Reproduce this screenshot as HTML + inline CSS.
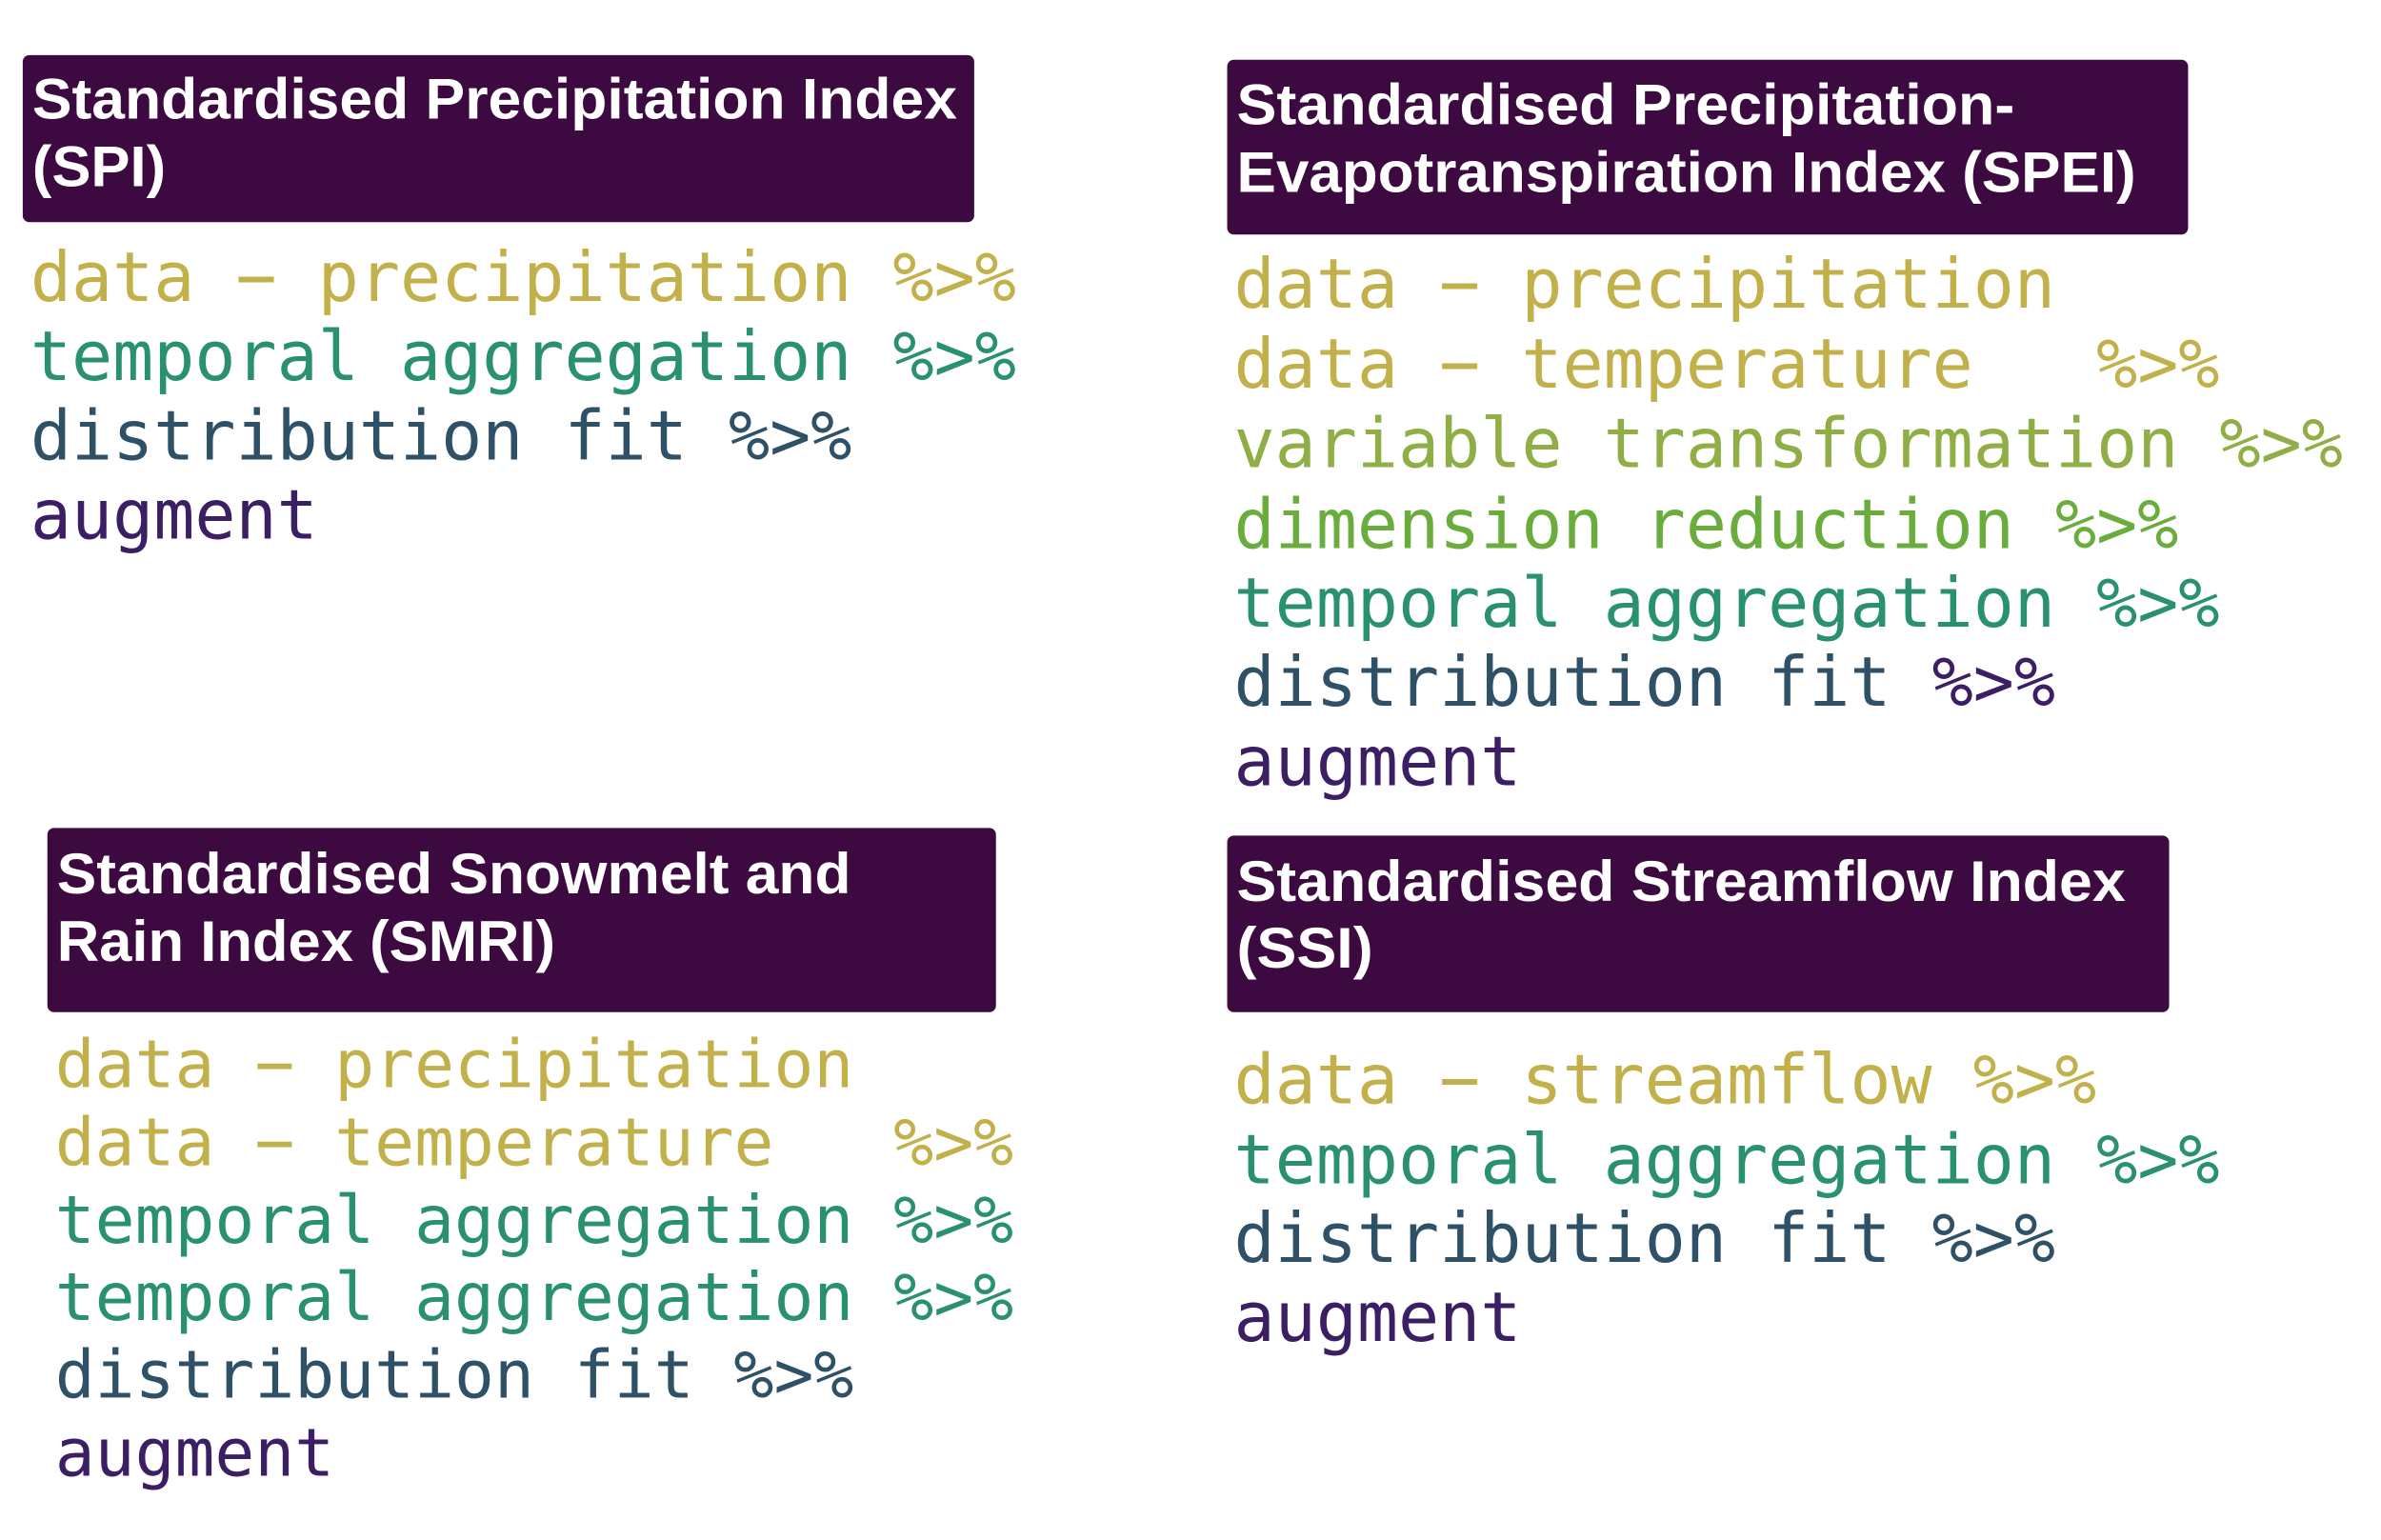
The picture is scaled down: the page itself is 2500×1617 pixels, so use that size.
<!DOCTYPE html>
<html><head><meta charset="utf-8"><style>
html,body{margin:0;padding:0;background:#fff;}
svg{display:block;}
text{white-space:pre;}
.t{font-family:"Liberation Sans",sans-serif;font-weight:bold;fill:#fff;font-size:60px;}
.c{font-family:"DejaVu Sans Mono","Liberation Mono",monospace;font-size:72px;}
.s{font-size:70px;}
</style></head><body>
<svg width="2500" height="1617" viewBox="0 0 2500 1617" xmlns="http://www.w3.org/2000/svg">
<g transform="scale(0.995 0.997)">
<g>
<rect x="24" y="58" width="1004" height="176" rx="7" fill="#3c0a40"/>
<text class="t"><tspan x="34" y="125" textLength="976" lengthAdjust="spacingAndGlyphs">Standardised Precipitation Index</tspan><tspan x="34" y="196" textLength="141" lengthAdjust="spacingAndGlyphs">(SPI)</tspan></text>
<text class="c" x="32" y="317" fill="#c2b04a">data − precipitation %&gt;%</text>
<text class="c" x="32" y="400" fill="#2a9170">temporal aggregation %&gt;%</text>
<text class="c" x="32" y="484" fill="#2f5168">distribution fit %&gt;%</text>
<text class="c" x="32" y="567" fill="#3b1e63">augment</text>
</g>
<g>
<rect x="1295" y="63" width="1014" height="184" rx="7" fill="#3c0a40"/>
<text class="t"><tspan x="1305" y="131" textLength="821" lengthAdjust="spacingAndGlyphs">Standardised Precipitation-</tspan><tspan x="1305" y="202" textLength="949" lengthAdjust="spacingAndGlyphs">Evapotranspiration Index (SPEI)</tspan></text>
<text class="c" x="1302" y="324" fill="#c2b04a">data − precipitation</text>
<text class="c" x="1302" y="408" fill="#c2b04a">data − temperature   %&gt;%</text>
<text class="c" x="1302" y="492" fill="#8fae45">variable transformation %&gt;%</text>
<text class="c" x="1302" y="577" fill="#6aad3d">dimension reduction %&gt;%</text>
<text class="c" x="1302" y="660" fill="#2a9170">temporal aggregation %&gt;%</text>
<text class="c" x="1302" y="743" fill="#2f5168">distribution fit <tspan fill="#3b1e63">%&gt;%</tspan></text>
<text class="c" x="1302" y="827" fill="#3b1e63">augment</text>
</g>
<g>
<rect x="50" y="872" width="1001" height="194" rx="7" fill="#3c0a40"/>
<text class="t"><tspan x="60" y="941" textLength="838" lengthAdjust="spacingAndGlyphs">Standardised Snowmelt and</tspan><tspan x="60" y="1012" textLength="526" lengthAdjust="spacingAndGlyphs">Rain Index (SMRI)</tspan></text>
<text class="c s" x="58" y="1145" fill="#c2b04a">data − precipitation</text>
<text class="c s" x="58" y="1227" fill="#c2b04a">data − temperature   %&gt;%</text>
<text class="c s" x="58" y="1309" fill="#2a9170">temporal aggregation %&gt;%</text>
<text class="c s" x="58" y="1390" fill="#2a9170">temporal aggregation %&gt;%</text>
<text class="c s" x="58" y="1472" fill="#2f5168">distribution fit %&gt;%</text>
<text class="c s" x="58" y="1554" fill="#3b1e63">augment</text>
</g>
<g>
<rect x="1295" y="880" width="994" height="186" rx="7" fill="#3c0a40"/>
<text class="t"><tspan x="1305" y="949" textLength="938" lengthAdjust="spacingAndGlyphs">Standardised Streamflow Index</tspan><tspan x="1305" y="1019" textLength="144" lengthAdjust="spacingAndGlyphs">(SSI)</tspan></text>
<text class="c" x="1302" y="1162" fill="#c2b04a">data − streamflow %&gt;%</text>
<text class="c" x="1302" y="1246" fill="#2a9170">temporal aggregation %&gt;%</text>
<text class="c" x="1302" y="1329" fill="#2f5168">distribution fit %&gt;%</text>
<text class="c" x="1302" y="1412" fill="#3b1e63">augment</text>
</g>
</g>
</svg>
</body></html>
